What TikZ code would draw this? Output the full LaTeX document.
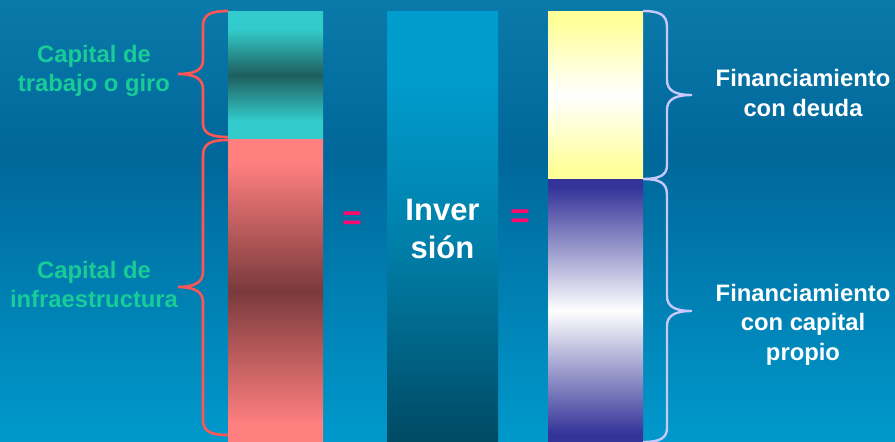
\documentclass[tikz,border=0pt]{standalone}
\usepackage{fontspec}
\setmainfont{Liberation Sans}
\definecolor{bgtop}{HTML}{0A7AAA}
\definecolor{bgmid}{HTML}{00679A}
\definecolor{bgbot}{HTML}{0099CC}
\definecolor{tealc}{HTML}{33CCCC}
\definecolor{teald}{HTML}{1F5E5E}
\definecolor{salc}{HTML}{FF7F7F}
\definecolor{sald}{HTML}{7A3A3C}
\definecolor{yelc}{HTML}{FFFF99}
\definecolor{bluc}{HTML}{333399}
\definecolor{invtop}{HTML}{009CCD}
\definecolor{invmid}{HTML}{007EA8}
\definecolor{invbot}{HTML}{004A64}
\definecolor{lgreen}{HTML}{18CC98}
\definecolor{bracered}{HTML}{FF5555}
\definecolor{bracelav}{HTML}{C8C8FF}
\definecolor{eqpink}{HTML}{FF0A6E}
% stops mapped into the central 25bp..75bp band used by TikZ
\pgfdeclareverticalshading{bgshade}{100bp}{color(0bp)=(bgbot); color(25bp)=(bgbot); color(57.5bp)=(bgmid); color(75bp)=(bgtop); color(100bp)=(bgtop)}
\pgfdeclareverticalshading{tealshade}{100bp}{color(0bp)=(tealc); color(32bp)=(tealc); color(50bp)=(teald); color(68bp)=(tealc); color(100bp)=(tealc)}
\pgfdeclareverticalshading{salshade}{100bp}{color(0bp)=(salc); color(28bp)=(salc); color(50bp)=(sald); color(71bp)=(salc); color(100bp)=(salc)}
\pgfdeclareverticalshading{yelshade}{100bp}{color(0bp)=(yelc); color(28bp)=(yelc); color(50bp)=(white); color(72bp)=(yelc); color(100bp)=(yelc)}
\pgfdeclareverticalshading{blushade}{100bp}{color(0bp)=(bluc); color(26.5bp)=(bluc); color(50bp)=(white); color(73.5bp)=(bluc); color(100bp)=(bluc)}
\pgfdeclareverticalshading{invshade}{100bp}{color(0bp)=(invbot); color(25bp)=(invbot); color(47.5bp)=(invmid); color(67.5bp)=(invtop); color(100bp)=(invtop)}
\tikzset{
  lefttext/.style={text=lgreen, font=\bfseries\fontsize{23.8}{28.5}\selectfont, align=center, anchor=base, inner sep=0pt},
  righttext/.style={text=white, font=\bfseries\fontsize{23.8}{29.5}\selectfont, align=center, anchor=base, inner sep=0pt},
  redbrace/.style={draw=bracered, line width=2.6pt},
  lavbrace/.style={draw=bracelav, line width=2.4pt},
  eqsign/.style={text=eqpink, font=\bfseries\fontsize{34}{34}\selectfont, inner sep=0pt}
}
\begin{document}
\begin{tikzpicture}[x=1pt,y=-1pt]
\useasboundingbox (0,0) rectangle (895,442);
\fill[shading=bgshade] (0,0) rectangle (895,442);
% bars
\fill[shading=tealshade] (228,11) rectangle (323,139);
\fill[shading=salshade] (228,139) rectangle (323,442);
\fill[shading=invshade] (387,11) rectangle (498,442);
\fill[shading=yelshade] (548,11) rectangle (643,179);
\fill[shading=blushade] (548,179) rectangle (643,442);
% left braces
\draw[redbrace] (228,11) .. controls (210,11) and (203,15) .. (203,26)
  -- (203,60) .. controls (203,70) and (195,74) .. (178,74)
  .. controls (195,74) and (203,79) .. (203,89)
  -- (203,123) .. controls (203,133) and (210,137) .. (228,137);
\draw[redbrace] (228,140) .. controls (210,140) and (203,144) .. (203,156)
  -- (203,272) .. controls (203,282) and (195,287) .. (178,287)
  .. controls (195,287) and (203,292) .. (203,302)
  -- (203,420) .. controls (203,431) and (210,435) .. (228,435);
% right braces
\draw[lavbrace] (643,11) .. controls (660,11) and (667,15) .. (667,27)
  -- (667,80) .. controls (667,90) and (674,95) .. (692,95)
  .. controls (674,95) and (667,100) .. (667,110)
  -- (667,165) .. controls (667,175) and (660,179) .. (643,179);
\draw[lavbrace] (643,179) .. controls (660,179) and (667,183) .. (667,195)
  -- (667,296) .. controls (667,306) and (674,311) .. (692,311)
  .. controls (674,311) and (667,316) .. (667,326)
  -- (667,428) .. controls (667,438) and (660,442) .. (643,442);
% texts (anchor base = baseline of last line)
\node[lefttext] (ctg) at (94,91) {Capital de\\trabajo o giro};
\node[lefttext] (cin) at (94,307) {Capital de\\infraestructura};
\node[righttext] (fd) at (803,116) {Financiamiento\\con deuda};
\node[righttext] (fc) at (803,360) {Financiamiento\\con capital\\propio};
\node[text=white, font=\bfseries\fontsize{31}{38}\selectfont, align=center, anchor=base, inner sep=0pt] (inv) at (442.5,258) {Inver\\sión};
\node[eqsign] (eq1) at (352,221) {=};
\node[eqsign] (eq2) at (520,219) {=};
\end{tikzpicture}
\end{document}
